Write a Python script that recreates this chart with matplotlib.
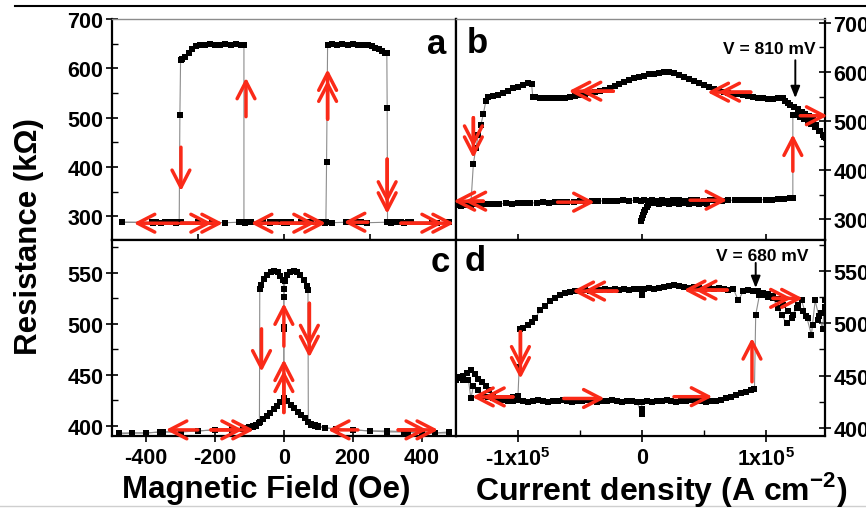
import numpy as np
import matplotlib
matplotlib.use('Agg')
import matplotlib.pyplot as plt
from matplotlib.lines import Line2D
from matplotlib.ticker import MultipleLocator, FixedLocator

plt.rcParams['font.family'] = ['Liberation Sans', 'DejaVu Sans']
plt.rcParams['font.weight'] = 'bold'
plt.rcParams['mathtext.fontset'] = 'custom'
plt.rcParams['mathtext.rm'] = 'Liberation Sans:bold'
plt.rcParams['mathtext.bf'] = 'Liberation Sans:bold'
plt.rcParams['axes.unicode_minus'] = False

RED = '#fa2a18'
GREY = '#8c8c8c'

# ---------------- panel a : R vs H (kOhm vs Oe) ----------------
a_up_H = [-470, -380, -340, -300, -250, -210, -170, -130, -100, -60, -40, -30, -20, -10, 0, 10, 20, 50, 80, 100,
          110, 118, 122, 124, 127, 140, 155, 170, 185, 200, 215, 230, 245, 255, 265, 275, 285, 295, 299, 300,
          301, 310, 320, 330, 340, 350, 360, 370, 430, 445, 480]
a_up_R = [288, 287, 288, 289, 288, 288, 287, 288, 289, 288, 287, 288, 288, 289, 288, 287, 288, 288, 289, 288,
          288, 287, 288, 410, 648, 649, 648, 649, 648, 649, 648, 648, 647, 645, 642, 639, 635, 632, 631, 519,
          288, 287, 288, 289, 288, 287, 288, 288, 288, 287, 288]

a_dn_H = [480, 445, 430, 370, 330, 300, 240, 225, 210, 195, 180, 140, 100, 60, 20, 10, 0, -10, -40, -95,
          -105, -112, -116, -116, -125, -140, -155, -170, -185, -200, -215, -230, -245, -256, -266, -276, -286, -296, -300, -302,
          -304, -312, -322, -334, -346, -358, -370, -382, -470]
a_dn_R = [288, 287, 288, 288, 289, 288, 287, 288, 288, 289, 288, 287, 288, 288, 289, 288, 287, 288, 288, 289,
          288, 287, 288, 648, 648, 649, 648, 649, 648, 648, 649, 648, 648, 645, 640, 632, 622, 619, 617, 505,
          288, 287, 288, 289, 288, 287, 288, 288, 288]

# ---------------- panel c : R vs H ----------------
c_up_H = [-480, -440, -400, -360, -300, -250, -200, -150, -120, -100, -90, -80, -70, -60, -50, -40, -30, -20, -10,
          0, 0, 0, 3, 10, 18, 28, 38, 48, 58, 66, 70,
          71, 80, 90, 100, 120, 150, 200, 250, 300, 350, 400, 440, 480]
c_up_R = [393, 393, 393, 394, 394, 395, 396, 397, 398, 399, 400, 401, 404, 407, 410, 413, 416, 419, 423,
          426, 495, 526, 542, 548, 551, 552, 551, 548, 543, 537, 533,
          404, 401, 400, 399, 398, 397, 396, 395, 394, 394, 393, 393, 393]

c_dn_H = [480, 440, 400, 360, 300, 250, 200, 150, 120, 100, 90, 80, 70, 60, 50, 40, 30, 20, 10,
          0, 0, 0, -3, -10, -18, -28, -38, -48, -58, -66, -70,
          -71, -80, -90, -100, -120, -150, -200, -250, -300, -350, -400, -440, -480]
c_dn_R = [394, 393, 394, 394, 395, 395, 396, 397, 398, 400, 401, 402, 404, 408, 411, 414, 417, 420, 424,
          427, 497, 534, 543, 547, 551, 552, 551, 548, 544, 538, 534,
          403, 400, 399, 398, 397, 396, 396, 395, 394, 394, 393, 393, 392]

# ---------------- panel b : R vs J (units of 1e5 A/cm2) ----------------
b_lo_J = [-1.50, -1.46, -1.42, -1.38, -1.34, -1.30, -1.25, -1.20, -1.15, -1.10, -1.05, -1.00, -0.95, -0.90, -0.85,
          -0.80, -0.75, -0.70, -0.65, -0.60, -0.55, -0.50, -0.45, -0.40, -0.35, -0.30, -0.25, -0.20, -0.15, -0.10,
          -0.05, -0.01, 0.02, 0.05, 0.08, 0.12, 0.16, 0.20, 0.25, 0.30, 0.35, 0.40, 0.45, 0.50, 0.55,
          0.60, 0.65, 0.70, 0.75, 0.80, 0.85, 0.90, 0.95, 1.00, 1.05, 1.10, 1.15, 1.20, 1.22,
          1.22, 1.25, 1.28, 1.31, 1.34, 1.37, 1.40, 1.43, 1.46, 1.49]
b_lo_R = [329, 328, 330, 329, 331, 330, 331, 332, 331, 333, 332, 333, 334, 333, 334,
          335, 334, 336, 335, 336, 336, 337, 336, 337, 338, 337, 338, 338, 339, 338,
          339, 338, 339, 338, 339, 338, 339, 338, 339, 339, 338, 339, 339, 338, 339,
          339, 338, 339, 339, 339, 340, 339, 340, 340, 340, 341, 342, 343, 343,
          513, 512, 509, 505, 500, 494, 488, 480, 472, 465]

b_hi_J = [1.50, 1.47, 1.44, 1.41, 1.38, 1.35, 1.32, 1.29, 1.26, 1.23, 1.20, 1.18, 1.16, 1.14, 1.10,
          1.06, 1.02, 0.98, 0.94, 0.90, 0.86, 0.82, 0.78, 0.74, 0.70, 0.66, 0.62, 0.58, 0.54, 0.50,
          0.46, 0.42, 0.38, 0.34, 0.30, 0.26, 0.22, 0.18, 0.14, 0.10, 0.06, 0.02, -0.02, -0.06, -0.10,
          -0.14, -0.18, -0.22, -0.26, -0.30, -0.34, -0.38, -0.42, -0.46, -0.50, -0.54, -0.58, -0.62, -0.66, -0.70,
          -0.74, -0.78, -0.82, -0.86, -0.88, -0.89, -0.92, -0.96, -1.00, -1.04, -1.08, -1.12, -1.16, -1.20, -1.24,
          -1.26, -1.28, -1.30, -1.32, -1.34, -1.36, -1.38, -1.42, -1.46, -1.50]
b_hi_R = [458, 468, 480, 492, 502, 510, 515, 518, 524, 528, 532, 536, 542, 548, 547,
          545, 546, 547, 548, 550, 552, 554, 555, 556, 558, 560, 563, 566, 569, 573,
          577, 582, 586, 590, 594, 598, 600, 600, 599, 597, 595, 592, 590, 587, 583,
          579, 575, 571, 567, 563, 561, 559, 557, 555, 553, 551, 549, 548, 548, 547,
          548, 547, 548, 549, 550, 575, 577, 574, 570, 568, 562, 557, 554, 552, 549,
          540, 514, 492, 472, 445, 413, 332, 331, 330, 329]

# first points of the sweep starting at J = 0
b_init_J = [-0.01, 0.00, 0.01, 0.02, 0.03, 0.04, 0.05, 0.06, 0.07, 0.10, 0.14, 0.18, 0.22, 0.26, 0.30, 0.34, 0.38, 0.42, 0.46, 0.50, 0.53]
b_init_R = [296, 302, 308, 314, 320, 325, 330, 333, 334, 333, 332, 333, 332, 333, 332, 333, 332, 333, 332, 333, 332]

# ---------------- panel d : R vs J ----------------
d_lo_J = [-1.50, -1.47, -1.44, -1.41, -1.38, -1.35, -1.32, -1.29, -1.26, -1.23, -1.20, -1.16, -1.12, -1.08, -1.04,
          -1.00, -0.96, -0.92, -0.88, -0.84, -0.80, -0.76, -0.72, -0.68, -0.64, -0.60, -0.56, -0.52, -0.48, -0.44,
          -0.40, -0.36, -0.32, -0.28, -0.24, -0.20, -0.16, -0.12, -0.08, -0.04, 0.00, 0.00, 0.00, 0.04, 0.08,
          0.12, 0.16, 0.20, 0.24, 0.28, 0.32, 0.36, 0.40, 0.44, 0.48, 0.52, 0.56, 0.60, 0.64, 0.68,
          0.72, 0.76, 0.80, 0.84, 0.88, 0.91, 0.92, 0.95, 0.98, 1.02, 1.06, 1.10, 1.13, 1.17, 1.21,
          1.25, 1.29, 1.33, 1.37, 1.40, 1.43, 1.46, 1.48]
d_lo_R = [447, 449, 446, 452, 455, 451, 447, 444, 440, 436, 431, 428, 427, 426, 426,
          427, 426, 425, 426, 427, 426, 425, 426, 426, 427, 426, 425, 426, 426, 427,
          426, 425, 426, 426, 427, 426, 425, 426, 426, 425, 413, 418, 425, 426, 425,
          426, 426, 427, 426, 425, 426, 426, 427, 426, 426, 425, 426, 426, 427, 428,
          429, 431, 433, 434, 436, 437, 508, 527, 527, 525, 524, 515, 508, 500, 505,
          515, 522, 507, 489, 522, 507, 495, 522]

d_hi_J = [1.48, 1.45, 1.42, 1.38, 1.34, 1.30, 1.26, 1.22, 1.18, 1.14, 1.10, 1.06, 1.02, 0.98, 0.94,
          0.90, 0.86, 0.82, 0.78, 0.74, 0.70, 0.66, 0.62, 0.58, 0.54, 0.50, 0.46, 0.42, 0.38, 0.34,
          0.30, 0.26, 0.22, 0.18, 0.14, 0.10, 0.06, 0.02, 0.00, -0.02, -0.06, -0.10, -0.14, -0.18, -0.22,
          -0.26, -0.30, -0.34, -0.38, -0.42, -0.46, -0.50, -0.54, -0.58, -0.62, -0.66, -0.70, -0.74, -0.78, -0.82,
          -0.86, -0.89, -0.92, -0.96, -0.98, -0.99, -1.00, -1.04, -1.08, -1.12, -1.16, -1.20, -1.24, -1.28, -1.32,
          -1.36, -1.38, -1.40, -1.44, -1.48, -1.50]
d_hi_R = [516, 510, 503, 498, 505, 512, 518, 508, 512, 518, 523, 526, 528, 529, 531,
          531, 532, 531, 522, 533, 532, 533, 534, 533, 534, 533, 534, 535, 534, 535,
          536, 537, 536, 535, 534, 533, 534, 533, 527, 533, 533, 532, 533, 532, 533,
          532, 533, 532, 532, 531, 532, 531, 531, 530, 529, 527, 524, 521, 517, 513,
          505, 501, 498, 496, 495, 458, 430, 429, 428, 428, 427, 428, 429, 430, 436,
          440, 428, 446, 450, 448, 446]

# ---------------- red sweep arrows: (x0, y0, x1, y1, heads) ----------------
a_arrows = [(-308, 286, -436, 286, 1), (-299, 286, -177, 286, 2), (-17, 286, -96, 286, 1),
            (-9, 286, 122, 286, 2), (244, 288, 174, 288, 1), (340, 286, 494, 286, 2),
            (-299, 440, -299, 351, 1), (-110, 502, -110, 581, 1), (127, 497, 127, 598, 2),
            (300, 416, 300, 305, 2)]
c_arrows = [(-250, 396, -343, 396, 1), (-212, 396, -87, 396, 2), (215, 396, 128, 396, 1),
            (332, 396, 448, 396, 2), (0, 413, 0, 465, 2), (0, 478, 0, 520, 1),
            (-65, 495, -65, 453, 1), (74, 520, 74, 467, 2)]
b_arrows = [(-0.23, 561, -0.59, 561, 2), (0.88, 559, 0.53, 559, 2), (-1.36, 507, -1.36, 425, 2),
            (-1.28, 337, -1.52, 337, 2), (-0.68, 335, -0.38, 335, 1), (0.39, 339, 0.69, 339, 1),
            (1.22, 398, 1.22, 473, 1), (1.28, 511, 1.50, 511, 1)]
d_arrows = [(-0.20, 531, -0.56, 531, 2), (0.69, 532, 0.34, 532, 2), (1.06, 524, 1.30, 524, 2),
            (-0.98, 492, -0.98, 447, 2), (0.89, 444, 0.89, 486, 1), (-1.04, 429.5, -1.37, 429.5, 2),
            (-0.63, 428, -0.30, 428, 1), (0.26, 429.7, 0.57, 429.7, 1)]

J_SCALE = 1e5

fig = plt.figure(figsize=(8.66, 5.10), dpi=100)
ax_a = fig.add_axes([0.1290, 0.5275, 0.3976, 0.4333])
ax_b = fig.add_axes([0.5266, 0.5275, 0.4261, 0.4333])
ax_c = fig.add_axes([0.1290, 0.1431, 0.3976, 0.3844])
ax_d = fig.add_axes([0.5266, 0.1431, 0.4261, 0.3844])


def sweep(ax, x, y, scale=1.0):
    ax.plot(np.array(x) * scale, y, '-', color=GREY, lw=0.8, zorder=2)
    ax.plot(np.array(x) * scale, y, 's', color='black', ms=4.8, mew=0, zorder=3)


sweep(ax_a, a_up_H, a_up_R)
sweep(ax_a, a_dn_H, a_dn_R)
sweep(ax_c, c_up_H, c_up_R)
sweep(ax_c, c_dn_H, c_dn_R)
sweep(ax_b, b_init_J, b_init_R, J_SCALE)
sweep(ax_b, b_lo_J, b_lo_R, J_SCALE)
sweep(ax_b, b_hi_J, b_hi_R, J_SCALE)
sweep(ax_d, d_lo_J, d_lo_R, J_SCALE)
sweep(ax_d, d_hi_J, d_hi_R, J_SCALE)

ax_a.set_xlim(-500, 500); ax_a.set_ylim(252, 700)
ax_c.set_xlim(-500, 500); ax_c.set_ylim(390, 582)
ax_b.set_xlim(-1.5e5, 1.48e5); ax_b.set_ylim(258, 708)
ax_d.set_xlim(-1.5e5, 1.48e5); ax_d.set_ylim(392, 580)

tick_font = dict(fontsize=15.5, fontweight='bold')

# axis a
ax_a.set_yticks([300, 400, 500, 600, 700], ['300', '400', '500', '600', '700'], **tick_font)
ax_a.yaxis.set_minor_locator(MultipleLocator(50))
ax_a.set_xticks([-250, 0, 250], [])
# axis c
ax_c.set_yticks([400, 450, 500, 550], ['400', '450', '500', '550'], **tick_font)
ax_c.yaxis.set_minor_locator(MultipleLocator(25))
ax_c.set_xticks([-400, -200, 0, 200, 400], ['-400', '-200', '0', '200', '400'], **tick_font)
# axis b
ax_b.yaxis.tick_right()
ax_b.set_yticks([300, 400, 500, 600, 700], ['300', '400', '500', '600', '700'], **tick_font)
ax_b.yaxis.set_minor_locator(MultipleLocator(50))
ax_b.set_xticks([-1e5, 0, 1e5], [])
# axis d
ax_d.yaxis.tick_right()
ax_d.set_yticks([400, 450, 500, 550], ['400', '450', '500', '550'], **tick_font)
ax_d.yaxis.set_minor_locator(MultipleLocator(25))
ax_d.set_xticks([-1e5, 0, 1e5], [r'-1x10$^{\mathbf{5}}$', '0', r'1x10$^{\mathbf{5}}$'], **tick_font)
ax_d.xaxis.set_minor_locator(FixedLocator([-0.5e5, 0.5e5]))

for ax in (ax_a, ax_b, ax_c, ax_d):
    ax.tick_params(axis='y', which='major', direction='inout', length=8, width=1.2, pad=2)
    ax.tick_params(axis='y', which='minor', direction='in', length=4, width=1.0)
    ax.tick_params(axis='x', which='major', direction='inout', length=8, width=1.2, pad=4)
    ax.tick_params(axis='x', which='minor', direction='in', length=4, width=1.0)
    for side in ('left', 'right', 'bottom', 'top'):
        ax.spines[side].set_linewidth(1.6)
        ax.spines[side].set_color('black')
for ax in (ax_a, ax_b):
    ax.spines['top'].set_color(GREY)
    ax.spines['top'].set_linewidth(1.0)


def red_arrow(ax, x0, y0, x1, y1, heads, scale=1.0):
    x0, x1 = x0 * scale, x1 * scale
    props = dict(arrowstyle='->,head_length=0.62,head_width=0.32', color=RED, lw=2.5,
                 shrinkA=0, shrinkB=0, mutation_scale=20)
    ax.annotate('', xy=(x1, y1), xytext=(x0, y0), arrowprops=props, annotation_clip=False, zorder=5)
    if heads == 2:
        p0 = ax.transData.transform((x0, y0))
        p1 = ax.transData.transform((x1, y1))
        d = (p1 - p0) / np.hypot(*(p1 - p0))
        x2, y2 = ax.transData.inverted().transform(p1 - d * 11)
        ax.annotate('', xy=(x2, y2), xytext=(x0, y0), arrowprops=props, annotation_clip=False, zorder=5)


for arr in a_arrows:
    red_arrow(ax_a, *arr)
for arr in c_arrows:
    red_arrow(ax_c, *arr)
for arr in b_arrows:
    red_arrow(ax_b, *arr, scale=J_SCALE)
for arr in d_arrows:
    red_arrow(ax_d, *arr, scale=J_SCALE)

# voltage markers
black_props = dict(arrowstyle='-|>,head_length=0.5,head_width=0.2', color='black', lw=1.4,
                   shrinkA=0, shrinkB=0, mutation_scale=14)
ax_b.annotate('', xy=(1.24e5, 547), xytext=(1.24e5, 624), arrowprops=black_props)
ax_b.text(1.03e5, 647, 'V = 810 mV', ha='center', va='center', fontsize=12.5, fontweight='bold')
ax_d.annotate('', xy=(0.92e5, 534), xytext=(0.92e5, 558), arrowprops=black_props)
ax_d.text(0.97e5, 565, 'V = 680 mV', ha='center', va='center', fontsize=12.5, fontweight='bold')

# panel letters
letter_font = dict(fontsize=25, fontweight='bold', ha='center', va='center')
ax_a.text(0.945, 0.887, 'a', transform=ax_a.transAxes, **letter_font)
ax_b.text(0.057, 0.893, 'b', transform=ax_b.transAxes, **letter_font)
ax_c.text(0.954, 0.888, 'c', transform=ax_c.transAxes, **letter_font)
ax_d.text(0.051, 0.893, 'd', transform=ax_d.transAxes, **letter_font)

# axis titles
fig.text(29 / 866, 1 - 237 / 510, 'Resistance (k\u03a9)', rotation=90, ha='center', va='center',
         fontsize=22.5, fontweight='bold')
fig.text(266 / 866, 1 - 490 / 510, 'Magnetic Field (Oe)', ha='center', va='center',
         fontsize=22.5, fontweight='bold')
fig.text(661 / 866, 1 - 490 / 510, r'Current density (A cm$^{\mathbf{-2}}$)', ha='center', va='center',
         fontsize=23, fontweight='bold')

# frame lines of the original slide
fig.add_artist(Line2D([15 / 866, 1], [1 - 7 / 510] * 2, color='black', lw=1.5, transform=fig.transFigure))
fig.add_artist(Line2D([0, 1], [3 / 510] * 2, color='#cfcfcf', lw=1.0, transform=fig.transFigure))

fig.savefig('out.png', dpi=100)
